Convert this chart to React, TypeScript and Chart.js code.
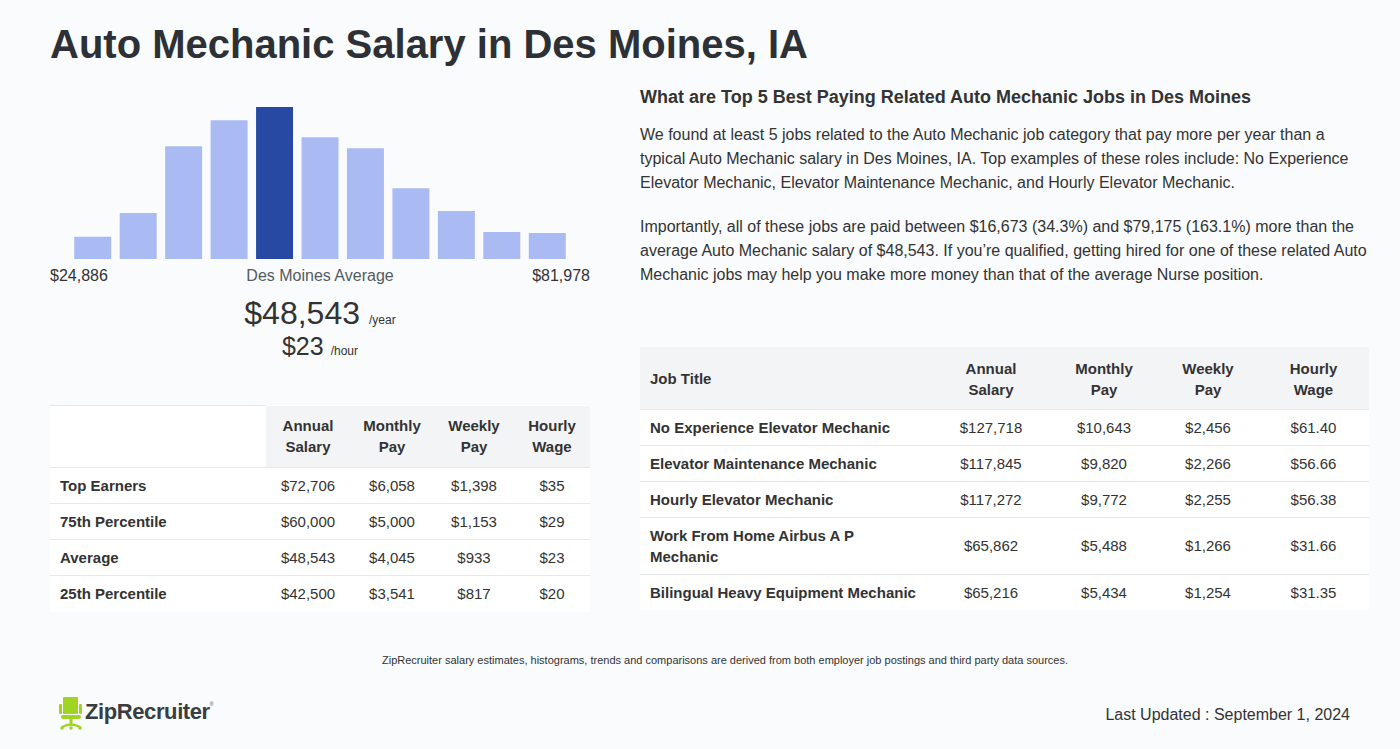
import React, { useEffect, useRef } from "react";
import { Chart, registerables } from "chart.js";

Chart.register(...registerables);

// ---- Data ----
const binLabels = ["1", "2", "3", "4", "5", "6", "7", "8", "9", "10", "11"];
const binCounts = [22.3, 46, 113, 139, 152.3, 122, 111, 71, 48, 27, 26];
const highlightBin = 4;
const rangeMin = "$24,886";
const rangeMax = "$81,978";
const avgYear = "$48,543";
const avgHour = "$23";

const pctHeaders = ["Annual Salary", "Monthly Pay", "Weekly Pay", "Hourly Wage"];
const pctLabels = ["Top Earners", "75th Percentile", "Average", "25th Percentile"];
const pctAnnual = ["$72,706", "$60,000", "$48,543", "$42,500"];
const pctMonthly = ["$6,058", "$5,000", "$4,045", "$3,541"];
const pctWeekly = ["$1,398", "$1,153", "$933", "$817"];
const pctHourly = ["$35", "$29", "$23", "$20"];

const jobTitles = [
  "No Experience Elevator Mechanic",
  "Elevator Maintenance Mechanic",
  "Hourly Elevator Mechanic",
  "Work From Home Airbus A P Mechanic",
  "Bilingual Heavy Equipment Mechanic",
];
const jobAnnual = ["$127,718", "$117,845", "$117,272", "$65,862", "$65,216"];
const jobMonthly = ["$10,643", "$9,820", "$9,772", "$5,488", "$5,434"];
const jobWeekly = ["$2,456", "$2,266", "$2,255", "$1,266", "$1,254"];
const jobHourly = ["$61.40", "$56.66", "$56.38", "$31.66", "$31.35"];

const FONT = '"Liberation Sans", Arial, Helvetica, sans-serif';
const TEXT = "#333333";
const BG = "#f9fbfd";
const LINE = "#e6e8eb";
const HEAD_BG = "#f3f4f6";

function Histogram() {
  const ref = useRef<HTMLCanvasElement | null>(null);
  useEffect(() => {
    if (!ref.current) return;
    const chart = new Chart(ref.current, {
      type: "bar",
      data: {
        labels: binLabels,
        datasets: [
          {
            data: binCounts,
            backgroundColor: binCounts.map((_, i) => (i === highlightBin ? "#2749a3" : "#a9bbf2")),
            borderWidth: 0,
            barPercentage: 0.813,
            categoryPercentage: 1,
          },
        ],
      },
      options: {
        responsive: false,
        maintainAspectRatio: false,
        animation: false,
        layout: { padding: { left: 20, right: 20, top: 0, bottom: 0 } },
        plugins: { legend: { display: false }, tooltip: { enabled: false } },
        scales: {
          x: { display: false },
          y: { display: false, min: 0, max: Math.max(...binCounts) },
        },
      },
    });
    return () => chart.destroy();
  }, []);
  return (
    <canvas
      ref={ref}
      width={540}
      height={152}
      style={{ position: "absolute", left: 50, top: 107, width: 540, height: 152 }}
    />
  );
}

const cellBase: React.CSSProperties = {
  fontFamily: FONT,
  fontSize: 15,
  color: TEXT,
  padding: "0 10px",
  borderBottom: `1px solid ${LINE}`,
  lineHeight: "21px",
};

function LeftTable() {
  const widths = [216, 84, 84, 80, 76];
  const cols = [pctAnnual, pctMonthly, pctWeekly, pctHourly];
  return (
    <table
      style={{
        position: "absolute",
        left: 50,
        top: 405,
        width: 540,
        borderCollapse: "collapse",
        tableLayout: "fixed",
        background: "#ffffff",
      }}
    >
      <colgroup>
        {widths.map((w, i) => (
          <col key={i} style={{ width: w }} />
        ))}
      </colgroup>
      <thead>
        <tr style={{ height: 62 }}>
          <th style={{ ...cellBase, background: "#ffffff", borderTop: `1px solid ${LINE}` }}></th>
          {pctHeaders.map((h, i) => {
            const [a, b] = h.split(" ");
            return (
              <th
                key={i}
                style={{ ...cellBase, padding: 0, background: HEAD_BG, fontWeight: 700, textAlign: "center" }}
              >
                {a}
                <br />
                {b}
              </th>
            );
          })}
        </tr>
      </thead>
      <tbody>
        {pctLabels.map((lab, r) => (
          <tr key={r} style={{ height: 36 }}>
            <td style={{ ...cellBase, fontWeight: 700, borderBottom: r === pctLabels.length - 1 ? "none" : cellBase.borderBottom }}>{lab}</td>
            {cols.map((c, i) => (
              <td
                key={i}
                style={{ ...cellBase, padding: 0, textAlign: "center", borderBottom: r === pctLabels.length - 1 ? "none" : cellBase.borderBottom }}
              >
                {c[r]}
              </td>
            ))}
          </tr>
        ))}
      </tbody>
    </table>
  );
}

function RightTable() {
  const widths = [292, 118, 108, 100, 111];
  const cols = [jobAnnual, jobMonthly, jobWeekly, jobHourly];
  return (
    <table
      style={{
        position: "absolute",
        left: 640,
        top: 347,
        width: 729,
        borderCollapse: "collapse",
        tableLayout: "fixed",
        background: "#ffffff",
      }}
    >
      <colgroup>
        {widths.map((w, i) => (
          <col key={i} style={{ width: w }} />
        ))}
      </colgroup>
      <thead>
        <tr style={{ height: 62, background: HEAD_BG }}>
          <th style={{ ...cellBase, fontWeight: 700, textAlign: "left", paddingTop: 2 }}>Job Title</th>
          {pctHeaders.map((h, i) => {
            const [a, b] = h.split(" ");
            return (
              <th key={i} style={{ ...cellBase, padding: "2px 0 0 0", fontWeight: 700, textAlign: "center" }}>
                {a}
                <br />
                {b}
              </th>
            );
          })}
        </tr>
      </thead>
      <tbody>
        {jobTitles.map((t, r) => {
          const last = r === jobTitles.length - 1;
          return (
            <tr key={r} style={{ height: 36 }}>
              <td style={{ ...cellBase, fontWeight: 700, padding: "7px 10px", borderBottom: last ? "none" : cellBase.borderBottom }}>{t}</td>
              {cols.map((c, i) => (
                <td key={i} style={{ ...cellBase, padding: 0, textAlign: "center", borderBottom: last ? "none" : cellBase.borderBottom }}>
                  {c[r]}
                </td>
              ))}
            </tr>
          );
        })}
      </tbody>
    </table>
  );
}

function Logo() {
  return (
    <div style={{ position: "absolute", left: 59, top: 695, height: 36, display: "flex", alignItems: "center" }}>
      <svg width={24} height={34} viewBox="0 0 24 34">
        <rect x={4} y={1} width={15} height={17} rx={1} fill="#9fd423" />
        <rect x={0} y={8} width={3} height={10} rx={1} fill="#9fd423" />
        <rect x={20} y={8} width={3} height={10} rx={1} fill="#9fd423" />
        <rect x={2} y={19} width={20} height={4} rx={2} fill="#9fd423" />
        <rect x={10.5} y={23} width={3} height={6} fill="#9fd423" />
        <path d="M3 31 Q12 26 21 31" stroke="#9fd423" strokeWidth={2.5} fill="none" />
        <circle cx={3} cy={32} r={1.8} fill="#9fd423" />
        <circle cx={21} cy={32} r={1.8} fill="#9fd423" />
        <circle cx={12} cy={32} r={1.8} fill="#9fd423" />
      </svg>
      <span
        style={{
          fontFamily: FONT,
          fontWeight: 700,
          fontSize: 22,
          color: "#383d42",
          marginLeft: 2,
          letterSpacing: -0.4,
          position: "relative",
          top: -1,
        }}
      >
        ZipRecruiter
        <sup style={{ fontSize: 5, fontWeight: 400, verticalAlign: "top", position: "relative", top: 2 }}>®</sup>
      </span>
    </div>
  );
}

export default function App() {
  useEffect(() => {
    document.body.style.margin = "0";
    document.body.style.background = BG;
  }, []);
  const abs = (s: React.CSSProperties): React.CSSProperties => ({ position: "absolute", fontFamily: FONT, color: TEXT, whiteSpace: "nowrap", ...s });
  return (
    <div style={{ position: "absolute", left: 0, top: 0, width: 1400, height: 749, background: BG, overflow: "hidden" }}>
      <div style={abs({ left: 50, top: 19, fontSize: 40, fontWeight: 700, color: "#2d3136", lineHeight: "50px" })}>
        Auto Mechanic Salary in Des Moines, IA
      </div>

      <Histogram />
      <div style={abs({ left: 50, top: 266, fontSize: 16, lineHeight: "20px" })}>{rangeMin}</div>
      <div style={abs({ left: 50, width: 540, textAlign: "center", top: 266, fontSize: 16, lineHeight: "20px", color: "#555a60" })}>
        Des Moines Average
      </div>
      <div style={abs({ left: 50, width: 540, textAlign: "right", top: 266, fontSize: 16, lineHeight: "20px" })}>{rangeMax}</div>

      <div style={abs({ left: 50, width: 540, textAlign: "center", top: 293, lineHeight: "40px" })}>
        <span style={{ fontSize: 32 }}>{avgYear}</span>
        <span style={{ fontSize: 12, marginLeft: 9 }}>/year</span>
      </div>
      <div style={abs({ left: 50, width: 540, textAlign: "center", top: 331, lineHeight: "30px" })}>
        <span style={{ fontSize: 25 }}>{avgHour}</span>
        <span style={{ fontSize: 12, marginLeft: 7 }}>/hour</span>
      </div>

      <LeftTable />

      <div style={abs({ left: 640, top: 86, fontSize: 18, fontWeight: 700, lineHeight: "22px" })}>
        What are Top 5 Best Paying Related Auto Mechanic Jobs in Des Moines
      </div>
      <div style={abs({ left: 640, top: 123, fontSize: 16, lineHeight: "24px" })}>
        We found at least 5 jobs related to the Auto Mechanic job category that pay more per year than a
        <br />
        typical Auto Mechanic salary in Des Moines, IA. Top examples of these roles include: No Experience
        <br />
        Elevator Mechanic, Elevator Maintenance Mechanic, and Hourly Elevator Mechanic.
      </div>
      <div style={abs({ left: 640, top: 215, fontSize: 16, lineHeight: "24px" })}>
        Importantly, all of these jobs are paid between $16,673 (34.3%) and $79,175 (163.1%) more than the
        <br />
        average Auto Mechanic salary of $48,543. If you’re qualified, getting hired for one of these related Auto
        <br />
        Mechanic jobs may help you make more money than that of the average Nurse position.
      </div>

      <RightTable />

      <div style={abs({ left: 50, width: 1350, textAlign: "center", top: 653, fontSize: 11, lineHeight: "14px" })}>
        ZipRecruiter salary estimates, histograms, trends and comparisons are derived from both employer job postings and third party data sources.
      </div>

      <Logo />

      <div style={abs({ left: 1000, width: 350, textAlign: "right", top: 705, fontSize: 16, lineHeight: "20px" })}>
        Last Updated : September 1, 2024
      </div>
    </div>
  );
}
